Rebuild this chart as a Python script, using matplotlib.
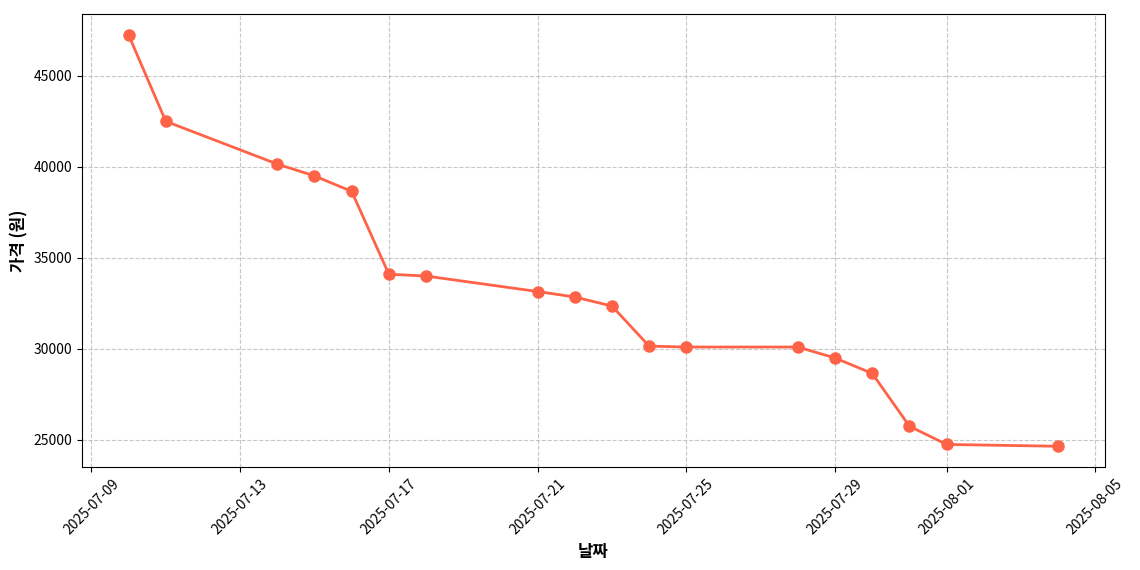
import matplotlib
matplotlib.use("Agg")
import matplotlib.pyplot as plt
import pandas as pd

plt.rcParams['font.family'] = ['Noto Sans CJK KR', 'DejaVu Sans']

dates = ["2025-07-10","2025-07-11","2025-07-14","2025-07-15","2025-07-16","2025-07-17",
         "2025-07-18","2025-07-21","2025-07-22","2025-07-23","2025-07-24","2025-07-25",
         "2025-07-28","2025-07-29","2025-07-30","2025-07-31","2025-08-01","2025-08-04"]
prices = [47250,42500,40150,39500,38650,34100,34000,33150,32850,32350,30150,30100,
          30100,29500,28650,25750,24750,24650]

x = pd.to_datetime(dates)
fig, ax = plt.subplots(figsize=(11.4, 5.7), dpi=100)
ax.plot(x, prices, color='#FF6347', marker='o', linewidth=2, markersize=8)
ax.set_xlabel('날짜', fontsize=12, fontweight='bold')
ax.set_ylabel('가격 (원)', fontsize=12, fontweight='bold')
ax.grid(True, linestyle='--', alpha=0.7)
plt.xticks(rotation=45)
fig.subplots_adjust(left=0.072, right=0.969, top=0.975, bottom=0.181)
fig.savefig('out.png')
